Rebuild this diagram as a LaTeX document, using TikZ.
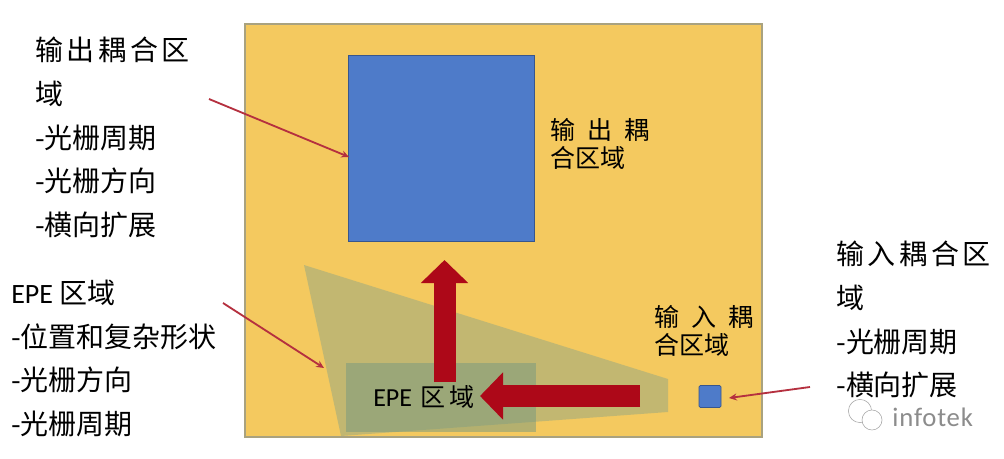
\documentclass[tikz,border=0pt]{standalone}
\usepackage{fontspec}
\setmainfont{Noto Sans CJK SC}
\newfontfamily\latinfont{Carlito}
\newfontfamily\markfont[LetterSpace=3]{Carlito}
\usetikzlibrary{arrows.meta, positioning}
\definecolor{boardorange}{HTML}{F4C95F}
\definecolor{boardedge}{HTML}{A9A27F}
\definecolor{gratingblue}{HTML}{4E7BC9}
\definecolor{bigred}{HTML}{AD0818}
\definecolor{thinred}{HTML}{B5303F}
\definecolor{wedgegrey}{HTML}{92A783}
\definecolor{patchgreen}{HTML}{75997F}
\newcommand{\widegap}{\hskip 2.6pt}
\newcommand{\boxgap}{\hskip 8.5pt}
\tikzset{
  sidetext/.style={anchor=north west, inner sep=0pt, align=left, font=\fontsize{19.9}{31}\selectfont},
  boxtext/.style={anchor=north west, inner sep=0pt, align=left, font=\fontsize{17.8}{20}\selectfont},
  thinarrow/.style={-{Stealth[length=5.5pt,width=5pt]}, thinred, line width=1.3pt},
  bigarrow/.style={-{Triangle[length=.575cm,width=1.15cm]}, bigred, line width=.55cm},
  grating/.style={fill=gratingblue, draw=gratingblue!70!black, line width=.5pt},
  wechat/.style={circle, draw=black!35, fill=white, line width=.4pt, inner sep=0pt}
}

\begin{document}
\begin{tikzpicture}[x=.025cm, y=-.025cm]
  \useasboundingbox [fill=white] (0,0) rectangle (1004,459);

  % board and regions
  \draw [fill=boardorange, draw=boardedge, line width=1pt] (245,24) rectangle (762,437);
  \fill [wedgegrey, fill opacity=.5] (304,265) -- (668,379) -- (668,412) -- (341,436) -- cycle;
  \fill [patchgreen, fill opacity=.5] (346,363) rectangle (536,432);
  \draw [grating] (348,55) rectangle (534,241);
  \node (inbox) [grating, rounded corners=1pt, minimum size=.55cm, inner sep=0pt] at (710,396.5) {};

  % big red arrows
  \coordinate (upstart) at (444.5,382);
  \coordinate (uptip) at (444.5,260);
  \coordinate (leftstart) at (640,396);
  \coordinate (lefttip) at (480,396);
  \draw [bigarrow] (upstart) -- (uptip);
  \draw [bigarrow] (leftstart) -- (lefttip);

  % labels
  \node (outlabel) [sidetext] at (35,37) {输\widegap 出\widegap 耦\widegap 合\widegap 区\\域\\-光栅周期\\-光栅方向\\-横向扩展};
  \node (epelabel) [sidetext] at (11,280) {{\latinfont EPE} 区域\\-位置和复杂形状\\-光栅方向\\-光栅周期};
  \node (inlabel) [sidetext] at (836,241) {输\widegap 入\widegap 耦\widegap 合\widegap 区\\域\\-光栅周期\\-横向扩展};
  \node (outboxlabel) [boxtext] at (550,118) {输\boxgap 出\boxgap 耦\\合区域};
  \node (inboxlabel) [boxtext] at (654,305) {输\boxgap 入\boxgap 耦\\合区域};
  \node (epeboxlabel) [anchor=base west, inner sep=0pt, font=\fontsize{17.8}{20}\selectfont] at (373,406) {{\latinfont\fontsize{18.5}{20}\selectfont EPE}\hskip 6pt 区\hskip 3pt 域};

  % thin arrows
  \coordinate (outfrom) at (209,99);
  \coordinate (outto) at (349,157);
  \coordinate (epefrom) at (223,303);
  \coordinate (epeto) at (324,368);
  \coordinate (infrom) at (810,387);
  \coordinate (into) at (729,398);
  \path [thinarrow]
    (outfrom) edge (outto)
    (epefrom) edge (epeto)
    (infrom) edge (into);

  % watermark
  \node (wmleft) [wechat, minimum size=.58cm] at (860,411) {};
  \node (wmright) [wechat, minimum size=.5cm] at (872,420) {};
  \node (wmtext) [right=7pt of wmright, yshift=2pt, inner sep=0pt, text=black!45, font=\markfont\fontsize{19}{20}\selectfont] {infotek};
\end{tikzpicture}
\end{document}
